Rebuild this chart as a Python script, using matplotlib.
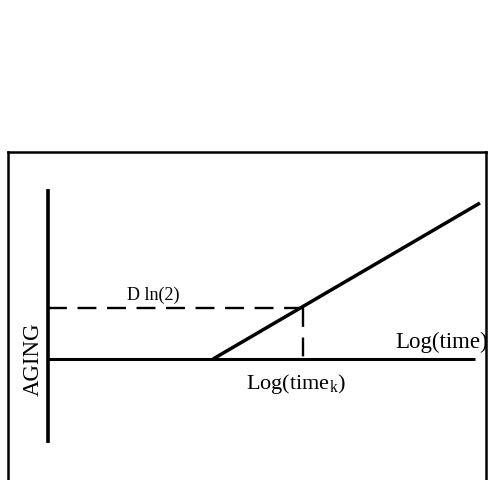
import matplotlib
matplotlib.use("Agg")
import matplotlib.pyplot as plt

plt.rcParams['font.family'] = ['Liberation Serif', 'DejaVu Serif']

# schematic values (arbitrary units, origin at the axes crossing)
aging_x = [165, 432]        # log(time) where aging starts and end of the line
aging_y = [0, 156]
knee_x = 255                # log(time_k)
knee_y = 51                 # D ln(2)
axis_x_end = 427
axis_y_range = [-84, 170]

label_y = "AGING"
label_x = "Log(time)"
label_knee = r"Log(time$_\mathregular{k}$)"
label_level = "D ln(2)"

fig = plt.figure(figsize=(4.88, 4.80), dpi=100)
ax = fig.add_axes([8 / 488, -0.02, 478 / 488, 0.7033])
ax.set_xlim(-40, 438)
ax.set_ylim(-130.6, 207)
ax.set_xticks([])
ax.set_yticks([])
for s in ax.spines.values():
    s.set_linewidth(1.8)
    s.set_color('black')

# axes of the sketch
ax.plot([0, 0], axis_y_range, color='black', lw=2.6, solid_capstyle='butt')
ax.plot([0, axis_x_end], [0, 0], color='black', lw=2.2, solid_capstyle='butt')

# aging line
ax.plot(aging_x, aging_y, color='black', lw=2.5, solid_capstyle='butt')

# dashed guides
ax.plot([0, knee_x], [knee_y, knee_y], color='black', lw=1.7, dashes=(8, 4.5))
ax.plot([knee_x, knee_x], [knee_y, 0], color='black', lw=1.7, dashes=(8, 4.5))

ax.text(105, 55, label_level, fontsize=13, ha='center', va='bottom')
ax.text(440, 6, label_x, fontsize=16.5, ha='right', va='bottom')
ax.text(248, -13, label_knee, fontsize=16, ha='center', va='top')
ax.text(-15, 0, label_y, fontsize=16.5, rotation=90, ha='center', va='center')

fig.savefig("out.png", dpi=100)
